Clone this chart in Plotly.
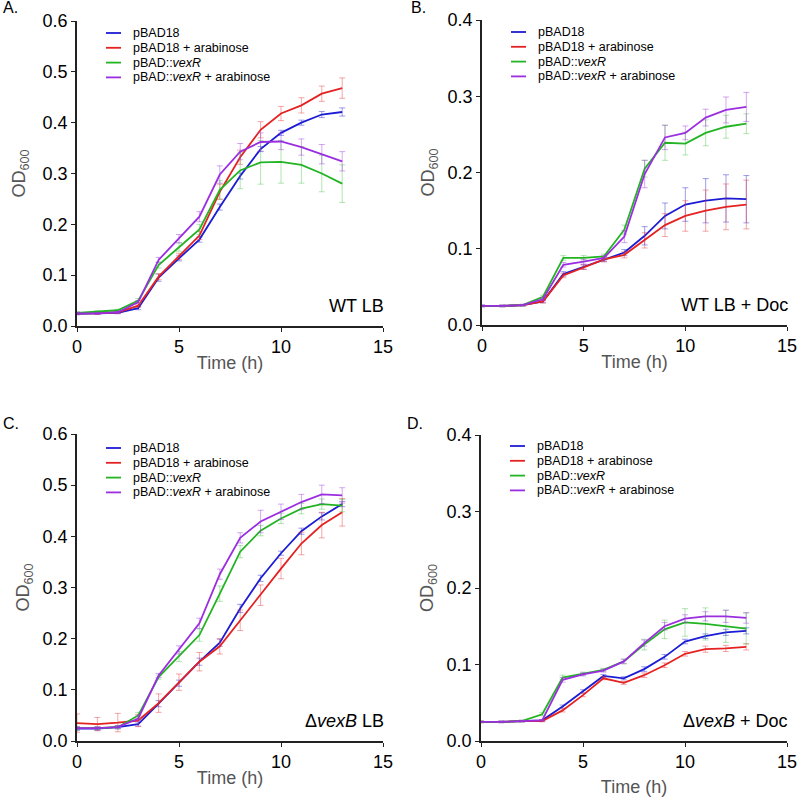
import plotly.graph_objects as go

W, H = 800, 797

time_h = list(range(14))

series_names = ["pBAD18", "pBAD18 + arabinose", "pBAD::<i>vexR</i>", "pBAD::<i>vexR</i> + arabinose"]
line_colors = ["#1c1cd4", "#e42222", "#22b422", "#9a2ee0"]
err_colors = ["rgba(40,40,210,0.45)", "rgba(230,60,60,0.45)", "rgba(60,190,60,0.4)", "rgba(160,60,225,0.45)"]

# Panel A: WT LB
a_blue = [0.024, 0.025, 0.026, 0.035, 0.095, 0.133, 0.170, 0.234, 0.295, 0.348, 0.380, 0.400, 0.416, 0.421]
a_red = [0.025, 0.025, 0.027, 0.040, 0.097, 0.137, 0.178, 0.264, 0.332, 0.386, 0.418, 0.434, 0.457, 0.468]
a_green = [0.026, 0.028, 0.031, 0.050, 0.120, 0.155, 0.190, 0.268, 0.306, 0.322, 0.323, 0.317, 0.300, 0.280]
a_purple = [0.025, 0.025, 0.027, 0.047, 0.130, 0.172, 0.215, 0.298, 0.343, 0.362, 0.363, 0.352, 0.338, 0.324]
a_blue_err = [0.002, 0.002, 0.002, 0.003, 0.007, 0.005, 0.005, 0.006, 0.006, 0.005, 0.005, 0.005, 0.006, 0.008]
a_red_err = [0.002, 0.002, 0.002, 0.003, 0.006, 0.006, 0.008, 0.015, 0.014, 0.016, 0.014, 0.015, 0.015, 0.020]
a_green_err = [0.002, 0.002, 0.002, 0.004, 0.006, 0.008, 0.010, 0.018, 0.036, 0.043, 0.042, 0.036, 0.036, 0.037]
a_purple_err = [0.002, 0.002, 0.002, 0.003, 0.005, 0.008, 0.010, 0.017, 0.016, 0.018, 0.016, 0.016, 0.019, 0.019]

# Panel B: WT LB + Doc
b_blue = [0.025, 0.025, 0.026, 0.031, 0.067, 0.076, 0.086, 0.095, 0.117, 0.143, 0.158, 0.163, 0.166, 0.165]
b_red = [0.025, 0.025, 0.026, 0.031, 0.065, 0.076, 0.086, 0.092, 0.111, 0.131, 0.143, 0.150, 0.155, 0.158]
b_green = [0.025, 0.025, 0.026, 0.037, 0.088, 0.088, 0.090, 0.125, 0.205, 0.239, 0.238, 0.252, 0.260, 0.264]
b_purple = [0.025, 0.025, 0.026, 0.034, 0.079, 0.083, 0.088, 0.116, 0.198, 0.246, 0.252, 0.272, 0.282, 0.286]
b_blue_err = [0.001, 0.001, 0.001, 0.002, 0.003, 0.003, 0.003, 0.004, 0.012, 0.017, 0.022, 0.029, 0.031, 0.031]
b_red_err = [0.001, 0.001, 0.001, 0.002, 0.003, 0.003, 0.003, 0.004, 0.010, 0.015, 0.020, 0.027, 0.030, 0.032]
b_green_err = [0.001, 0.001, 0.001, 0.002, 0.003, 0.003, 0.003, 0.006, 0.011, 0.023, 0.015, 0.017, 0.015, 0.013]
b_purple_err = [0.001, 0.001, 0.001, 0.002, 0.003, 0.003, 0.003, 0.008, 0.018, 0.016, 0.009, 0.011, 0.017, 0.019]

# Panel C: dvexB LB
c_blue = [0.024, 0.024, 0.027, 0.033, 0.073, 0.113, 0.155, 0.192, 0.259, 0.318, 0.367, 0.410, 0.439, 0.463]
c_red = [0.035, 0.033, 0.036, 0.040, 0.074, 0.115, 0.155, 0.185, 0.236, 0.285, 0.337, 0.386, 0.422, 0.447]
c_green = [0.025, 0.025, 0.027, 0.050, 0.125, 0.165, 0.207, 0.288, 0.370, 0.411, 0.435, 0.454, 0.463, 0.460]
c_purple = [0.025, 0.025, 0.027, 0.044, 0.128, 0.178, 0.230, 0.326, 0.397, 0.429, 0.448, 0.467, 0.482, 0.480]
c_blue_err = [0.003, 0.003, 0.003, 0.004, 0.006, 0.006, 0.007, 0.007, 0.008, 0.006, 0.004, 0.006, 0.007, 0.005]
c_red_err = [0.018, 0.013, 0.018, 0.012, 0.018, 0.016, 0.018, 0.015, 0.020, 0.020, 0.020, 0.022, 0.025, 0.027]
c_green_err = [0.003, 0.003, 0.003, 0.006, 0.004, 0.010, 0.012, 0.015, 0.012, 0.010, 0.010, 0.010, 0.010, 0.012]
c_purple_err = [0.003, 0.003, 0.003, 0.005, 0.004, 0.008, 0.010, 0.010, 0.010, 0.022, 0.015, 0.015, 0.018, 0.015]

# Panel D: dvexB + Doc
d_blue = [0.025, 0.025, 0.026, 0.027, 0.045, 0.065, 0.085, 0.082, 0.094, 0.110, 0.130, 0.137, 0.142, 0.144]
d_red = [0.025, 0.025, 0.026, 0.026, 0.040, 0.060, 0.082, 0.076, 0.086, 0.099, 0.114, 0.120, 0.121, 0.123]
d_green = [0.025, 0.025, 0.026, 0.035, 0.083, 0.088, 0.093, 0.104, 0.126, 0.146, 0.155, 0.153, 0.150, 0.147]
d_purple = [0.025, 0.025, 0.026, 0.027, 0.080, 0.087, 0.092, 0.104, 0.128, 0.150, 0.160, 0.163, 0.163, 0.161]
d_blue_err = [0.001, 0.001, 0.001, 0.001, 0.002, 0.002, 0.002, 0.002, 0.003, 0.003, 0.003, 0.003, 0.004, 0.004]
d_red_err = [0.001, 0.001, 0.001, 0.001, 0.002, 0.002, 0.002, 0.002, 0.003, 0.003, 0.003, 0.004, 0.004, 0.004]
d_green_err = [0.001, 0.001, 0.001, 0.002, 0.003, 0.002, 0.002, 0.003, 0.007, 0.012, 0.018, 0.021, 0.021, 0.020]
d_purple_err = [0.001, 0.001, 0.001, 0.001, 0.003, 0.002, 0.002, 0.003, 0.004, 0.005, 0.005, 0.006, 0.008, 0.007]

panels = [
    dict(ys=[a_blue, a_red, a_green, a_purple], errs=[a_blue_err, a_red_err, a_green_err, a_purple_err],
         ymax=0.6, tag="A.", note="WT LB"),
    dict(ys=[b_blue, b_red, b_green, b_purple], errs=[b_blue_err, b_red_err, b_green_err, b_purple_err],
         ymax=0.4, tag="B.", note="WT LB + Doc"),
    dict(ys=[c_blue, c_red, c_green, c_purple], errs=[c_blue_err, c_red_err, c_green_err, c_purple_err],
         ymax=0.6, tag="C.", note="Δ<i>vexB</i> LB"),
    dict(ys=[d_blue, d_red, d_green, d_purple], errs=[d_blue_err, d_red_err, d_green_err, d_purple_err],
         ymax=0.4, tag="D.", note="Δ<i>vexB</i> + Doc"),
]

# pixel boxes of the plot areas: left, right, top, bottom
boxes = [(77, 383, 21, 326), (482, 787, 20, 325), (77, 383, 434, 741), (481, 787, 435, 741)]
tag_pos = [(1, 8), (409, 8), (1, 423), (405, 424)]
legend_top = [33, 32, 448, 446]
x_standoff = [0, 0, 0, 13]
y_standoff = [12, 8, 8, 8]

FONT = "Liberation Sans, Arial, sans-serif"


def px(x):
    return x / W


def py(y):
    return 1 - y / H


fig = go.Figure()
layout = dict(width=W, height=H, margin=dict(l=0, r=0, t=0, b=0),
              plot_bgcolor="white", paper_bgcolor="white",
              font=dict(family=FONT, size=18, color="black"), showlegend=False)
annotations = []
shapes = []

for i, p in enumerate(panels):
    n = "" if i == 0 else str(i + 1)
    left, right, top, bottom = boxes[i]
    for k in range(4):
        fig.add_trace(go.Scatter(
            x=time_h, y=p["ys"][k], mode="lines", name=series_names[k],
            line=dict(color=line_colors[k], width=1.8),
            error_y=dict(type="data", array=p["errs"][k], color=err_colors[k], thickness=1, width=3),
            xaxis="x" + n, yaxis="y" + n))
    axis_common = dict(showgrid=False, zeroline=False, showline=True, linecolor="#222", linewidth=1.5,
                       ticks="outside", ticklen=4, tickwidth=1.2, tickcolor="#222", automargin=False,
                       tickfont=dict(size=18, color="black"))
    layout["xaxis" + n] = dict(axis_common, domain=[px(left), px(right)], anchor="y" + n,
                               range=[0, 15], tickvals=[0, 5, 10, 15],
                               title=dict(text="Time (h)", font=dict(size=18, color="#555"),
                                          standoff=x_standoff[i]))
    layout["yaxis" + n] = dict(axis_common, domain=[py(bottom), py(top)], anchor="x" + n,
                               range=[0, p["ymax"]], dtick=0.1, tickformat=".1f",
                               title=dict(text="OD<sub>600</sub>", font=dict(size=18, color="#555"),
                                          standoff=y_standoff[i]))
    # panel letter
    annotations.append(dict(text=p["tag"], x=px(tag_pos[i][0]), y=py(tag_pos[i][1]), xref="paper", yref="paper",
                            xanchor="left", yanchor="middle", showarrow=False, font=dict(size=16)))
    # condition label
    annotations.append(dict(text=p["note"], x=px(right + 3), y=py(bottom - 20), xref="paper", yref="paper",
                            xanchor="right", yanchor="middle", showarrow=False, font=dict(size=18)))
    # legend block
    for k in range(4):
        ly = legend_top[i] + 14.8 * k
        lx = left + 29
        shapes.append(dict(type="line", xref="paper", yref="paper", x0=px(lx), x1=px(lx + 15),
                           y0=py(ly), y1=py(ly), line=dict(color=line_colors[k], width=1.8)))
        annotations.append(dict(text=series_names[k], x=px(lx + 25), y=py(ly), xref="paper", yref="paper",
                                xanchor="left", yanchor="middle", showarrow=False,
                                font=dict(size=12.5, color="black")))

layout["annotations"] = annotations
layout["shapes"] = shapes
fig.update_layout(**layout)

# drop the page's default body margin so the figure sits at the window's corner
fig.write_html("out.html", config={"displayModeBar": False},
               post_script="document.body.style.margin = '0';")
